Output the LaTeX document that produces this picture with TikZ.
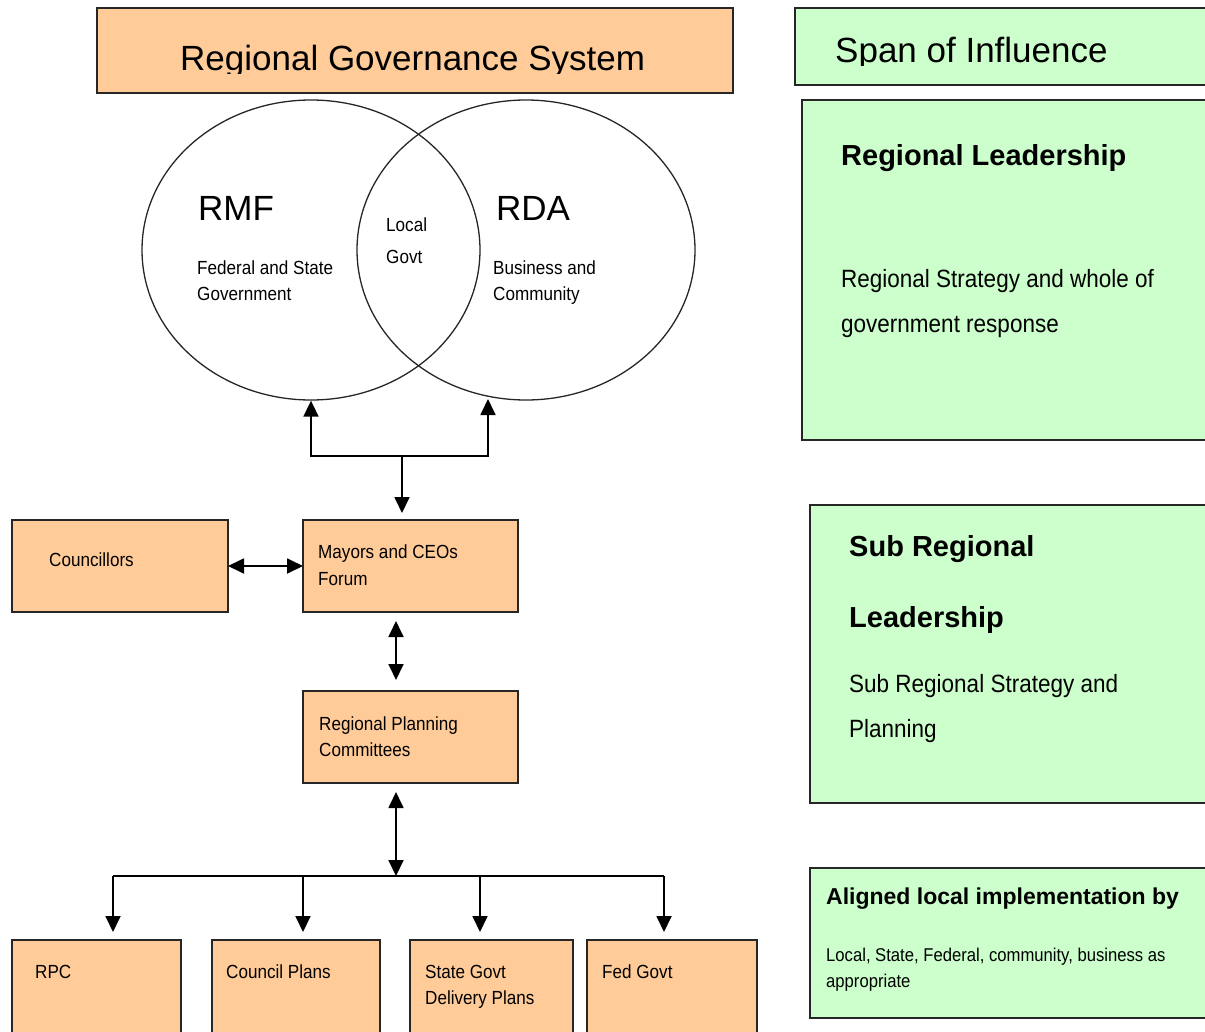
\documentclass[tikz,border=0pt]{standalone}
\usepackage{fontspec}
\setmainfont{Liberation Sans}
\newfontfamily\narrowsans[FakeStretch=0.9]{Liberation Sans}
\usetikzlibrary{arrows.meta,shapes.geometric}

\definecolor{peach}{HTML}{FFCC99}
\definecolor{mint}{HTML}{CCFFCC}
\definecolor{edge}{HTML}{262626}

\tikzset{
  box/.style={draw=edge, line width=1.8pt, anchor=north west, inner sep=0pt, outer sep=0pt},
  pbox/.style={box, fill=peach},
  gbox/.style={box, fill=mint},
  % multi-line labels: the base anchor sits on the last line
  lbl/.style={anchor=base west, inner sep=0pt, align=left, font=\narrowsans\fontsize{19}{26}\selectfont},
  bigl/.style={anchor=base west, inner sep=0pt, font=\fontsize{35}{42}\selectfont},
  headl/.style={anchor=base west, inner sep=0pt, align=left, font=\bfseries\fontsize{29}{71}\selectfont},
  bodyl/.style={anchor=base west, inner sep=0pt, align=left, font=\narrowsans\fontsize{25}{45}\selectfont},
  ring/.style={ellipse, draw=edge, line width=1.3pt, minimum width=338pt, minimum height=300pt, inner sep=0pt},
  link/.style={draw=black, line width=1.8pt, line join=miter},
  tipa/.tip={Triangle[length=16pt,width=15pt]},
  arr/.style={link, -tipa},
  darr/.style={link, tipa-tipa},
}

\begin{document}
\begin{tikzpicture}[x=1pt, y=-1pt]
\useasboundingbox (0,0) rectangle (1205,1031);
\clip (0,0) rectangle (1205,1031);

% ---------- left column: governance structure ----------
\node[pbox, minimum width=636pt, minimum height=85pt] (title) at (97,8) {};
\begin{scope}
  \clip (97,8) rectangle (733,73);
  \node[bigl] (titletext) at (180,70) {Regional Governance System};
\end{scope}

\node[ring] (rmf) at (311,250) {};
\node[ring] (rda) at (526,250) {};
\node[bigl] (rmflbl) at (198,220) {RMF};
\node[bigl] (rdalbl) at (496,220) {RDA};
\node[lbl, font=\narrowsans\fontsize{19}{32}\selectfont] (locallbl) at (386,263) {Local\\Govt};
\node[lbl] (fedstate) at (197,300) {Federal and State\\Government};
\node[lbl] (buscom) at (493,300) {Business and\\Community};

\node[pbox, minimum width=216pt, minimum height=92pt] (councillors) at (12,520) {};
\node[lbl] (councillorstext) at (49,566) {Councillors};
\node[pbox, minimum width=215pt, minimum height=92pt] (mayors) at (303,520) {};
\node[lbl, font=\narrowsans\fontsize{19}{27}\selectfont] (mayorstext) at (318,585) {Mayors and CEOs\\Forum};
\node[pbox, minimum width=215pt, minimum height=92pt] (rpcom) at (303,691) {};
\node[lbl] (rpcomtext) at (319,756) {Regional Planning\\Committees};

\node[pbox, minimum width=169pt, minimum height=120pt] (rpc) at (12,940) {};
\node[lbl] (rpctext) at (35,978) {RPC};
\node[pbox, minimum width=168pt, minimum height=120pt] (council) at (212,940) {};
\node[lbl] (counciltext) at (226,978) {Council Plans};
\node[pbox, minimum width=163pt, minimum height=120pt] (state) at (410,940) {};
\node[lbl] (statetext) at (425,1004) {State Govt\\Delivery Plans};
\node[pbox, minimum width=170pt, minimum height=120pt] (fed) at (587,940) {};
\node[lbl] (fedtext) at (602,978) {Fed Govt};

% connectors between the circles and the forum
\coordinate (hub) at (402,456);
\coordinate (rdafoot) at (488,399);
\draw[arr] (hub) -| (rmf.south);
\draw[arr] (hub) -| (rdafoot);
\draw[arr, shorten >=7pt] (hub) -- (hub |- mayors.north);

\draw[darr] (councillors.east) -- (councillors.east -| mayors.west);
\draw[darr, shorten <=9pt, shorten >=11pt] ([xshift=-14.5pt]mayors.south) -- ([xshift=-14.5pt]rpcom.north);

% distribution bus to the plans
\coordinate (bus) at (396,876);
\draw[darr, shorten <=9pt] ([xshift=-14.5pt]rpcom.south) -- (bus);
\coordinate (d1) at ([xshift=16.5pt]rpc.north);
\coordinate (d2) at ([xshift=7pt]council.north);
\coordinate (d3) at ([xshift=-11.5pt]state.north);
\coordinate (d4) at ([xshift=-8pt]fed.north);
\draw[link] (d1 |- bus) -- (d4 |- bus);
\draw[arr, shorten >=8pt] (d1 |- bus) -- (d1);
\draw[arr, shorten >=8pt] (d2 |- bus) -- (d2);
\draw[arr, shorten >=8pt] (d3 |- bus) -- (d3);
\draw[arr, shorten >=8pt] (d4 |- bus) -- (d4);

% ---------- right column: span of influence ----------
\node[gbox, minimum width=430pt, minimum height=77pt] (span) at (795,8) {};
\begin{scope}
  \clip (795,8) rectangle (1225,65);
  \node[bigl] (spantext) at (835,62) {Span of Influence};
\end{scope}

\node[gbox, minimum width=420pt, minimum height=340pt] (regional) at (802,100) {};
\node[headl] (regionalhead) at (841,165) {Regional Leadership};
\node[bodyl] (regionalbody) at (841,332) {Regional Strategy and whole of\\government response};

\node[gbox, minimum width=420pt, minimum height=298pt] (subregional) at (810,505) {};
\node[headl] (subhead) at (849,627) {Sub Regional\\Leadership};
\node[bodyl] (subbody) at (849,737) {Sub Regional Strategy and\\Planning};

\node[gbox, minimum width=420pt, minimum height=150pt] (aligned) at (810,868) {};
\node[headl, font=\bfseries\fontsize{23}{28}\selectfont] (alignedhead) at (826,904) {Aligned local implementation by};
\node[lbl, font=\narrowsans\fontsize{18.5}{26}\selectfont] (alignedbody) at (826,987) {Local, State, Federal, community, business as\\appropriate};
\end{tikzpicture}
\end{document}
